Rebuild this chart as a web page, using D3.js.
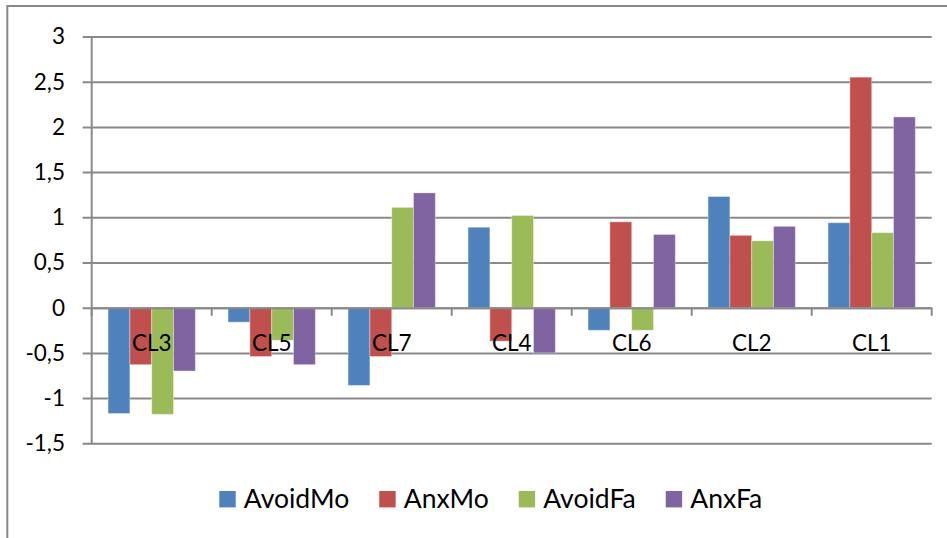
<!DOCTYPE html>
<html>
<head>
<meta charset="utf-8">
<script src="https://cdn.jsdelivr.net/npm/d3@7/dist/d3.min.js"></script>
<style>
  html, body { margin: 0; padding: 0; background: #ffffff; }
  svg { display: block; }
  text { font-family: Lato, "Open Sans", sans-serif; fill: #000; }
</style>
</head>
<body>
<svg id="chart" width="947" height="538"></svg>
<script>
// Cluster order along the x axis
const categories = ["CL3", "CL5", "CL7", "CL4", "CL6", "CL2", "CL1"];

// Series values per cluster
const seriesNames = ["AvoidMo", "AnxMo", "AvoidFa", "AnxFa"];
const avoidMo = [-1.17, -0.16, -0.86, 0.89, -0.25, 1.23, 0.94];
const anxMo   = [-0.63, -0.54, -0.54, -0.37, 0.95, 0.80, 2.55];
const avoidFa = [-1.18, -0.36, 1.11, 1.02, -0.25, 0.74, 0.83];
const anxFa   = [-0.70, -0.63, 1.27, -0.50, 0.81, 0.90, 2.11];
const seriesValues = [avoidMo, anxMo, avoidFa, anxFa];

// Y axis ticks
const yTicks = [-1.5, -1, -0.5, 0, 0.5, 1, 1.5, 2, 2.5, 3];
const yTickLabels = ["-1,5", "-1", "-0,5", "0", "0,5", "1", "1,5", "2", "2,5", "3"];

const colors = ["#4F81BD", "#C0504D", "#9BBB59", "#8064A2"];
const gridColor = "#898989";

const svg = d3.select("#chart");

// Chart area frame (extends past the right and bottom edges of the view)
svg.append("rect")
  .attr("x", 7.3).attr("y", 6)
  .attr("width", 1000).attr("height", 600)
  .attr("fill", "none")
  .attr("stroke", gridColor)
  .attr("stroke-width", 2);

const plot = { left: 91.7, right: 931.7, top: 36.5, bottom: 443.3 };

const y = d3.scaleLinear()
  .domain([-1.5, 3])
  .range([plot.bottom, plot.top]);

const x0 = d3.scaleBand()
  .domain(categories)
  .range([plot.left, plot.right])
  .paddingInner(0)
  .paddingOuter(0);

// Bars fill 4/(4+1.5) of each category slot (gap width 150%)
const groupWidth = x0.bandwidth() * 4 / 5.5;
const x1 = d3.scaleBand()
  .domain(seriesNames)
  .range([0, groupWidth])
  .padding(0);
const groupOffset = (x0.bandwidth() - groupWidth) / 2;

// Horizontal gridlines
const yAxis = d3.axisLeft(y)
  .tickValues(yTicks)
  .tickSize(plot.right - plot.left + 9)
  .tickFormat("");
const yAxisG = svg.append("g")
  .attr("transform", `translate(${plot.right},0)`)
  .call(yAxis);
yAxisG.select(".domain").remove();
yAxisG.selectAll(".tick line")
  .attr("stroke", gridColor)
  .attr("stroke-width", 2);

// Y tick labels
svg.append("g")
  .selectAll("text")
  .data(yTicks)
  .join("text")
  .attr("x", 65)
  .attr("y", d => y(d))
  .attr("dy", "0.35em")
  .attr("text-anchor", "end")
  .style("font-size", "22.5px")
  .text((d, i) => yTickLabels[i]);

// Vertical value axis line
svg.append("line")
  .attr("x1", plot.left).attr("x2", plot.left)
  .attr("y1", plot.top).attr("y2", plot.bottom)
  .attr("stroke", gridColor)
  .attr("stroke-width", 2);

// Bars
const rows = categories.map((c, i) => ({
  cat: c,
  vals: seriesNames.map((s, j) => ({ series: s, value: seriesValues[j][i], color: colors[j] }))
}));

const groups = svg.append("g")
  .selectAll("g")
  .data(rows)
  .join("g")
  .attr("transform", d => `translate(${x0(d.cat) + groupOffset},0)`);

groups.selectAll("rect")
  .data(d => d.vals)
  .join("rect")
  .attr("x", d => x1(d.series))
  .attr("width", x1.bandwidth())
  .attr("y", d => Math.min(y(0), y(d.value)))
  .attr("height", d => Math.abs(y(d.value) - y(0)))
  .attr("fill", d => d.color)
  .attr("stroke", "rgba(255,255,255,0.35)")
  .attr("stroke-width", 1);

// Category axis at zero with ticks between categories
const xAxis = d3.axisBottom(x0).tickSize(0).tickFormat("");
const xAxisG = svg.append("g")
  .attr("transform", `translate(0,${y(0)})`)
  .call(xAxis);
xAxisG.select(".domain")
  .attr("stroke", gridColor)
  .attr("stroke-width", 2);

const boundaries = categories.map(c => x0(c)).concat([plot.right]);
svg.append("g")
  .selectAll("line")
  .data(boundaries)
  .join("line")
  .attr("x1", d => d).attr("x2", d => d)
  .attr("y1", y(0)).attr("y2", y(0) + 8)
  .attr("stroke", gridColor)
  .attr("stroke-width", 2);

// Category labels just below the zero line
svg.append("g")
  .selectAll("text")
  .data(categories)
  .join("text")
  .attr("x", d => x0(d) + x0.bandwidth() / 2)
  .attr("y", 350.5)
  .attr("text-anchor", "middle")
  .style("font-size", "22.5px")
  .text(d => d);

// Legend, laid out left to right from measured label widths
const legend = svg.append("g");
const items = legend.selectAll("g")
  .data(seriesNames)
  .join("g");
items.append("rect")
  .attr("width", 16.4).attr("height", 16.4)
  .attr("y", 491)
  .attr("fill", (d, i) => colors[i]);
items.append("text")
  .attr("x", 24.5)
  .attr("y", 507.5)
  .style("font-size", "26.5px")
  .text(d => d);

const itemGap = 30;
let cursor = 0;
const positions = [];
items.each(function () {
  const w = d3.select(this).select("text").node().getComputedTextLength();
  positions.push(cursor);
  cursor += 24.5 + w + itemGap;
});
const startX = 219.3;
items.attr("transform", (d, i) => `translate(${startX + positions[i]},0)`);
</script>
</body>
</html>
